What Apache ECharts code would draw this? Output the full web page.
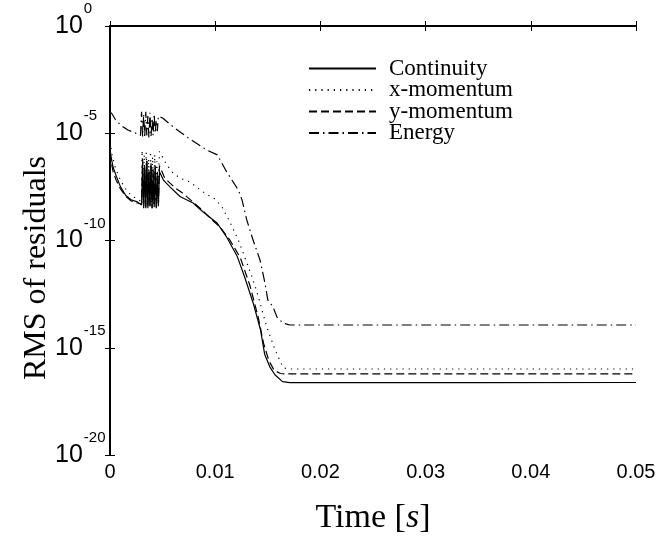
<!DOCTYPE html>
<html>
<head>
<meta charset="utf-8">
<script src="https://cdn.jsdelivr.net/npm/echarts@6/dist/echarts.min.js"></script>
<style>
  html, body { margin: 0; padding: 0; background: #fff; }
  #chart { width: 666px; height: 540px; }
</style>
</head>
<body>
<div id="chart"></div>
<script>
// log10 of the RMS residuals
const contT = [0, 0.0001, 0.0003, 0.0006, 0.001, 0.0015, 0.002, 0.0026, 0.0030,
  0.0031, 0.0032, 0.0033, 0.0034, 0.0035, 0.0036, 0.0037, 0.0038, 0.0039, 0.0040, 0.0041, 0.0042, 0.0043, 0.0044, 0.0045, 0.0046,
  0.0047, 0.0051, 0.0057, 0.00665, 0.0079, 0.0088, 0.0102, 0.0111, 0.0121, 0.0128, 0.0136, 0.0143, 0.0147, 0.0152, 0.0157, 0.0164, 0.0171, 0.025, 0.035, 0.05]
const contV = [-5.7, -6.1, -6.6, -7.0, -7.5, -7.9, -8.1, -8.2, -8.35,
  -6.4, -8.5, -6.6, -8.45, -6.3, -8.5, -6.8, -8.4, -6.5, -8.5, -6.9, -8.45, -6.6, -8.5, -7.0, -8.4,
  -6.8, -7.2, -7.5, -7.95, -8.25, -8.65, -9.2, -9.85, -10.75, -11.7, -12.9, -14.15, -15.3, -15.9, -16.27, -16.58, -16.63, -16.62, -16.63, -16.62]

const xmomT = [0, 0.0001, 0.0002, 0.0005, 0.001, 0.0015, 0.002, 0.0027, 0.0030,
  0.00305, 0.00315, 0.00325, 0.00335, 0.00345, 0.00355, 0.00365, 0.00375, 0.00385, 0.00395, 0.00405, 0.00415, 0.00425, 0.00435, 0.00445, 0.00455,
  0.0047, 0.0054, 0.006, 0.00665, 0.0076, 0.009, 0.01, 0.01065, 0.0114, 0.0122, 0.0128, 0.0135, 0.014, 0.0149, 0.0157, 0.0162, 0.0165, 0.0171, 0.03, 0.05]
const xmomV = [-5.4, -5.7, -6.0, -6.6, -7.2, -7.6, -7.9, -8.1, -8.2,
  -5.8, -8.3, -6.0, -8.35, -5.9, -8.2, -6.2, -8.3, -5.85, -8.25, -6.1, -8.3, -6.0, -8.2, -6.3, -8.1,
  -5.85, -6.48, -6.85, -7.09, -7.27, -7.79, -8.07, -8.44, -9.14, -9.98, -10.77, -11.7, -12.45, -14.03, -15.1, -15.66, -15.94, -15.99, -15.99, -15.99]

const ymomT = [0, 0.0001, 0.0003, 0.0006, 0.001, 0.0015, 0.002, 0.0026, 0.003,
  0.0031, 0.0032, 0.0033, 0.0034, 0.0035, 0.0036, 0.0037, 0.0038, 0.0039, 0.0040, 0.0041, 0.0042, 0.0043, 0.0044, 0.0045, 0.0046,
  0.0047, 0.0052, 0.0062, 0.0069, 0.0079, 0.00875, 0.0097, 0.01046, 0.0114, 0.0124, 0.0133, 0.0141, 0.0146, 0.0151, 0.0156, 0.0162, 0.0167, 0.03, 0.05]
const ymomV = [-5.9, -6.3, -6.8, -7.2, -7.6, -7.95, -8.15, -8.25, -8.3,
  -6.2, -8.4, -6.5, -8.5, -6.3, -8.45, -6.7, -8.4, -6.4, -8.5, -6.6, -8.35, -6.5, -8.45, -6.8, -8.3,
  -6.5, -7.09, -7.55, -7.79, -8.21, -8.58, -9.04, -9.37, -9.98, -10.82, -12.1, -13.6, -14.8, -15.6, -16.05, -16.2, -16.22, -16.22, -16.22]

const energyT = [0, 0.0001, 0.0002, 0.0005, 0.001, 0.0017, 0.0026, 0.0029,
  0.0030, 0.0031, 0.0032, 0.0033, 0.0034, 0.0035, 0.0036, 0.0037, 0.0038, 0.0039, 0.0040, 0.0041, 0.0042, 0.0043, 0.0044, 0.0045, 0.0046,
  0.0048, 0.005, 0.006, 0.0068, 0.0076, 0.0092, 0.0102, 0.0111, 0.0122, 0.01255, 0.013, 0.0136, 0.01426, 0.01473, 0.015, 0.0155, 0.01587, 0.01645, 0.0171, 0.03, 0.05]
const energyV = [-4.0, -4.03, -4.1, -4.35, -4.62, -4.85, -5.03, -5.1,
  -4.0, -5.15, -4.1, -5.2, -4.0, -5.1, -4.2, -5.2, -4.05, -5.15, -4.3, -5.1, -4.1, -5.0, -4.4, -4.9, -4.2,
  -4.25, -4.29, -4.7, -4.99, -5.27, -5.78, -6.01, -6.81, -7.65, -8.11, -9.04, -9.98, -10.91, -11.98, -12.77, -13.1, -13.57, -13.85, -13.94, -13.94, -13.94]

const seriesNames = ['Continuity', 'x-momentum', 'y-momentum', 'Energy']

const xMin = 0, xMax = 0.05, xStep = 0.01
const yMin = -20, yMax = 0, yStep = 5

const pairs = (t, v) => t.map((x, i) => [x, v[i]])

const chart = echarts.init(document.getElementById('chart'))

const lineSeries = (name, t, v, type, width) => ({
  name,
  type: 'line',
  data: pairs(t, v),
  symbol: 'none',
  smooth: false,
  itemStyle: { color: '#000' },
  lineStyle: { color: '#000', width, type }
})

const axisLine = { show: true, lineStyle: { color: '#000', width: 2 } }
const axisTick = { show: true, inside: true, length: 5, lineStyle: { color: '#000', width: 1 } }

const option = {
  animation: false,
  backgroundColor: '#fff',
  grid: { left: 110, right: 30, top: 26, bottom: 85 },
  legend: {
    data: seriesNames,
    orient: 'vertical',
    left: 308,
    top: 57,
    padding: 0,
    itemWidth: 67,
    itemHeight: 10,
    itemGap: -1.5,
    itemStyle: { opacity: 0 },
    textStyle: {
      fontFamily: 'Liberation Serif',
      fontSize: 23,
      color: '#000',
      padding: [0, 0, 0, 8]
    }
  },
  graphic: [
    {
      type: 'text',
      x: 37,
      y: 268,
      rotation: Math.PI / 2,
      style: {
        text: 'RMS of residuals',
        fontFamily: 'Liberation Serif',
        fontSize: 32,
        fill: '#000',
        align: 'center',
        verticalAlign: 'middle'
      }
    }
  ],
  xAxis: [
    {
      type: 'value', min: xMin, max: xMax, interval: xStep,
      axisLine, axisTick, splitLine: { show: false },
      axisLabel: {
        margin: 7, color: '#000', fontFamily: 'Liberation Sans', fontSize: 20,
        formatter: v => v === 0 ? '0' : v.toFixed(2)
      },
      name: 'Time [{i|s}]',
      nameLocation: 'middle',
      nameGap: 46,
      nameTextStyle: {
        fontFamily: 'Liberation Serif', fontSize: 34, color: '#000',
        rich: { i: { fontFamily: 'Liberation Serif', fontSize: 34, fontStyle: 'italic', color: '#000' } }
      }
    },
    {
      type: 'value', position: 'top', min: xMin, max: xMax, interval: xStep,
      axisLine, axisTick, axisLabel: { show: false }, splitLine: { show: false }
    }
  ],
  yAxis: [
    {
      type: 'value', min: yMin, max: yMax, interval: yStep,
      axisLine, axisTick, splitLine: { show: false },
      axisLabel: {
        margin: 55, align: 'left', color: '#000',
        formatter: v => '{b|10}{s|' + v + '}',
        rich: {
          b: { fontFamily: 'Liberation Sans', fontSize: 25, lineHeight: 25, padding: [12, 0, 12, 0], color: '#000' },
          s: { fontFamily: 'Liberation Sans', fontSize: 15, lineHeight: 15, padding: [0, 0, 34, 1], color: '#000' }
        }
      }
    },
    {
      type: 'value', position: 'right', min: yMin, max: yMax, interval: yStep,
      axisLine, axisTick, axisLabel: { show: false }, splitLine: { show: false }
    }
  ],
  series: [
    lineSeries(seriesNames[0], contT, contV, 'solid', 1.2),
    lineSeries(seriesNames[1], xmomT, xmomV, [1.2, 5], 1.2),
    lineSeries(seriesNames[2], ymomT, ymomV, [8, 4], 1.2),
    lineSeries(seriesNames[3], energyT, energyV, [10, 4, 1.5, 4], 1.2)
  ]
}

chart.setOption(option)
</script>
</body>
</html>
